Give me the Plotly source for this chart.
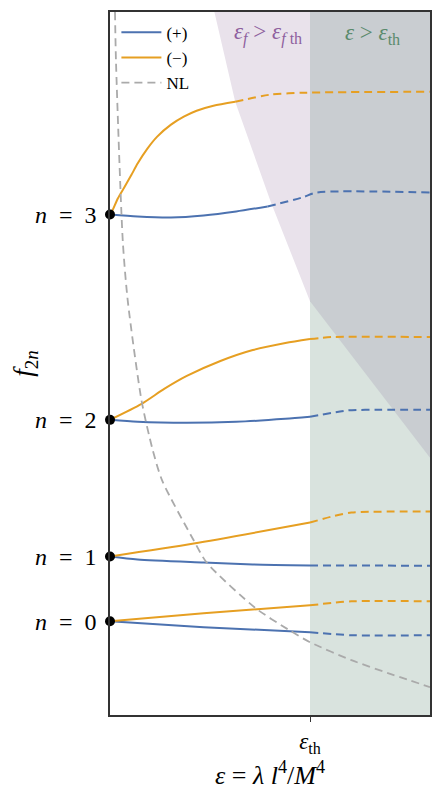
import plotly.graph_objects as go

# ---- level positions (f_{2n} at epsilon = 0) ----
level_vals = [0.0, 0.65, 2.02, 4.08]
level_text = ["<i>n</i>\u2002=\u20020", "<i>n</i>\u2002=\u20021",
              "<i>n</i>\u2002=\u20022", "<i>n</i>\u2002=\u20023"]

x_range = [0.0, 1.6]
y_range = [-0.94, 6.11]
eps_th = 1.0

# ---- (+) branches : solid part then dashed part ----
p0_x_s = [0.0, 0.468, 1.0]
p0_y_s = [0.0, -0.06, -0.11]
p0_x_d = [1.0, 1.207, 1.6]
p0_y_d = [-0.11, -0.14, -0.14]

p1_x_s = [0.0, 0.138, 0.468, 0.714, 1.0]
p1_y_s = [0.65, 0.62, 0.59, 0.57, 0.56]
p1_x_d = [1.0, 1.6]
p1_y_d = [0.56, 0.557]

p2_x_s = [0.0, 0.138, 0.384, 0.631, 0.877, 1.0]
p2_y_s = [2.02, 2.00, 1.99, 2.00, 2.03, 2.05]
p2_x_d = [1.0, 1.192, 1.355, 1.6]
p2_y_d = [2.05, 2.115, 2.12, 2.12]

p3_x_s = [0.0, 0.138, 0.305, 0.468, 0.631, 0.788]
p3_y_s = [4.08, 4.06, 4.05, 4.07, 4.11, 4.16]
p3_x_d = [0.788, 0.961, 1.034, 1.6]
p3_y_d = [4.16, 4.25, 4.30, 4.30]

# ---- (-) branches ----
m0_x_s = [0.0, 0.468, 1.0]
m0_y_s = [0.0, 0.08, 0.16]
m0_x_d = [1.0, 1.207, 1.6]
m0_y_d = [0.16, 0.20, 0.20]

m1_x_s = [0.0, 0.419, 1.0]
m1_y_s = [0.65, 0.78, 0.99]
m1_x_d = [1.0, 1.108, 1.207, 1.6]
m1_y_d = [0.99, 1.05, 1.09, 1.10]

m2_x_s = [0.0, 0.158, 0.271, 0.384, 0.552, 0.714, 0.877, 1.0]
m2_y_s = [2.02, 2.18, 2.33, 2.46, 2.61, 2.72, 2.79, 2.83]
m2_x_d = [1.0, 1.108, 1.6]
m2_y_d = [2.83, 2.85, 2.85]

m3_x_s = [0.0, 0.010, 0.039, 0.074, 0.108, 0.138, 0.187, 0.236, 0.305,
          0.369, 0.433, 0.517, 0.626]
m3_y_s = [4.08, 4.11, 4.24, 4.36, 4.48, 4.59, 4.74, 4.86, 4.98,
          5.06, 5.12, 5.17, 5.21]
m3_x_d = [0.626, 0.798, 0.961, 1.6]
m3_y_d = [5.21, 5.28, 5.30, 5.31]

# ---- NL curve ----
nl_x = [0.025, 0.030, 0.064, 0.089, 0.158, 0.212, 0.261, 0.419, 0.483,
        0.729, 0.897, 1.0, 1.207, 1.419, 1.6]
nl_y = [6.11, 5.61, 3.81, 3.21, 2.21, 1.73, 1.41, 0.81, 0.59,
        0.13, -0.09, -0.21, -0.39, -0.54, -0.66]

# ---- eps_f > eps_f,th boundary ----
bd_x = [0.50, 0.522, 0.626, 0.803, 1.0, 1.256, 1.6]
bd_y = [6.25, 6.11, 5.21, 4.21, 3.21, 2.54, 1.64]

BLUE = "#4c72b0"
ORANGE = "#e69f22"
GRAY = "#aaaaaa"
PURPLE_BG = "#e9e2eb"
GREEN_BG = "#d9e3de"
OVER_BG = "#c9cdd1"
SERIF = "Liberation Serif"
DASH = "8px,5px"

fig = go.Figure()

top = y_range[1] + 0.2
bot = y_range[0] - 0.2
xr = x_range[1] + 0.05

# purple region
fig.add_trace(go.Scatter(
    x=bd_x + [xr, xr], y=bd_y + [bd_y[-1], top],
    fill="toself", fillcolor=PURPLE_BG, line=dict(width=0), mode="lines",
    showlegend=False, hoverinfo="skip"))
# green region
fig.add_trace(go.Scatter(
    x=[eps_th, xr, xr, eps_th], y=[bot, bot, top, top],
    fill="toself", fillcolor=GREEN_BG, line=dict(width=0), mode="lines",
    showlegend=False, hoverinfo="skip"))
# overlap region
ov_x = [eps_th] + [bx for bx in bd_x if bx >= eps_th] + [xr, xr]
ov_y = [top] + [by for bx, by in zip(bd_x, bd_y) if bx >= eps_th] + [bd_y[-1], top]
fig.add_trace(go.Scatter(
    x=ov_x, y=ov_y, fill="toself", fillcolor=OVER_BG, line=dict(width=0),
    mode="lines", showlegend=False, hoverinfo="skip"))

plus = [(p0_x_s, p0_y_s, p0_x_d, p0_y_d), (p1_x_s, p1_y_s, p1_x_d, p1_y_d),
        (p2_x_s, p2_y_s, p2_x_d, p2_y_d), (p3_x_s, p3_y_s, p3_x_d, p3_y_d)]
minus = [(m0_x_s, m0_y_s, m0_x_d, m0_y_d), (m1_x_s, m1_y_s, m1_x_d, m1_y_d),
         (m2_x_s, m2_y_s, m2_x_d, m2_y_d), (m3_x_s, m3_y_s, m3_x_d, m3_y_d)]

for branch, color, name in [(plus, BLUE, "(+)"), (minus, ORANGE, "(−)")]:
    for i, (xs, ys, xd, yd) in enumerate(branch):
        fig.add_trace(go.Scatter(
            x=xs, y=ys, mode="lines",
            line=dict(color=color, width=2, shape="spline", smoothing=0.7),
            name=name, showlegend=(i == 0), hoverinfo="skip"))
        fig.add_trace(go.Scatter(
            x=xd, y=yd, mode="lines",
            line=dict(color=color, width=2, dash=DASH, shape="spline", smoothing=0.7),
            name=name, showlegend=False, hoverinfo="skip"))

fig.add_trace(go.Scatter(
    x=nl_x, y=nl_y, mode="lines",
    line=dict(color=GRAY, width=1.8, dash=DASH, shape="spline", smoothing=0.7),
    name="NL", hoverinfo="skip"))

fig.add_trace(go.Scatter(
    x=[0.0] * len(level_vals), y=level_vals, mode="markers",
    marker=dict(color="black", size=10), cliponaxis=False,
    showlegend=False, hoverinfo="skip"))

fig.add_annotation(x=0.79, y=5.89, xref="x", yref="y", showarrow=False,
                   text="<i>ε<sub>f</sub></i> > <i>ε<sub>f</sub></i><sub> th</sub>",
                   font=dict(family=SERIF, size=23, color="#8e5f9e"))
fig.add_annotation(x=1.31, y=5.89, xref="x", yref="y", showarrow=False,
                   text="<i>ε</i> > <i>ε</i><sub>th</sub>",
                   font=dict(family=SERIF, size=23, color="#5a8a6c"))

# the page body has an 8px margin: shift the figure accordingly
fig.update_layout(
    width=432, height=782,
    margin=dict(l=97, r=10, t=2, b=75),
    plot_bgcolor="white", paper_bgcolor="white",
    font=dict(family=SERIF, color="black"),
    legend=dict(x=0.02, y=0.996, xanchor="left", yanchor="top",
                bgcolor="rgba(0,0,0,0)", font=dict(family=SERIF, size=17),
                itemwidth=40, tracegroupgap=0),
    xaxis=dict(range=x_range, tickvals=[eps_th], ticktext=["<i>ε</i><sub>th</sub>"],
               ticks="outside", ticklen=5, tickcolor="#333", showgrid=False,
               zeroline=False, showline=True, mirror=True, linecolor="#333",
               linewidth=1.5, tickfont=dict(family=SERIF, size=23),
               title=dict(text="<i>ε</i> = <i>λ l</i><sup>4</sup>/<i>M</i><sup>4</sup>",
                          font=dict(family=SERIF, size=26), standoff=0)),
    yaxis=dict(range=y_range, tickvals=level_vals, ticktext=level_text,
               ticks="", showgrid=False, zeroline=False, showline=True, mirror=True,
               linecolor="#333", linewidth=1.5, tickfont=dict(family=SERIF, size=24),
               ticklabelstandoff=7,
               title=dict(text="<i>f</i><sub>2<i>n</i></sub>",
                          font=dict(family=SERIF, size=27), standoff=6)),
)

fig.write_html("out.html")
